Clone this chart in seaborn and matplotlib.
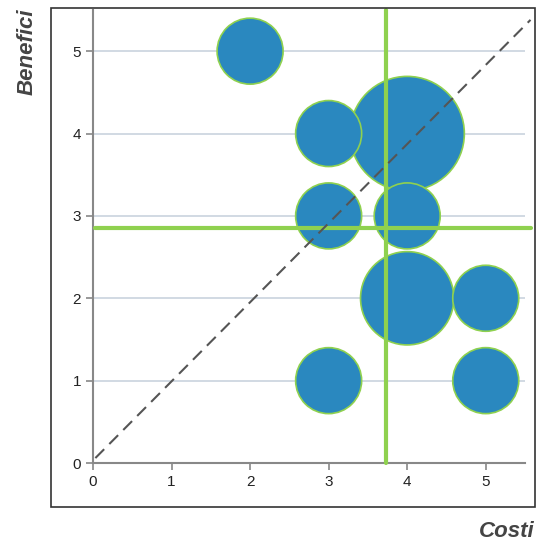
import matplotlib
matplotlib.use('Agg')
import pandas as pd
import matplotlib.pyplot as plt
import seaborn as sns
from matplotlib.patches import Rectangle

# Dati
costi = [2, 3, 4, 3, 4, 4, 5, 3, 5]
benefici = [5, 4, 4, 3, 3, 2, 2, 1, 1]
peso = [1, 1, 3, 1, 1, 2, 1, 1, 1]
media_costi = 3.73
media_benefici = 2.85

df = pd.DataFrame({'costi': costi, 'benefici': benefici, 'peso': peso})
# le bolle grandi sotto, le piccole sopra
df = df.sort_values('peso', ascending=False, kind='stable')

sns.set_style('white')
plt.rcParams['font.family'] = ['Liberation Sans', 'DejaVu Sans']

fig = plt.figure(figsize=(5.36, 5.46), dpi=100)
ax = fig.add_axes([0.1735, 0.152, 0.806, 0.8297])

# cornice esterna
fig.patches.append(Rectangle((0.095, 0.0714), 0.903, 0.9136, transform=fig.transFigure,
                             fill=False, edgecolor='#333333', linewidth=1.2))

for y in range(1, 6):
    ax.axhline(y, color='#c9d3de', linewidth=1.2, zorder=0)

sns.scatterplot(data=df, x='costi', y='benefici', size='peso', sizes=(2258, 6774),
                size_norm=(1, 3), color='#2a88bf', edgecolor='#8fd14f', linewidth=1.2,
                alpha=1, legend=False, ax=ax, zorder=3)

ax.plot([0.03, 5.57], [0.06, 5.38], linestyle=(0, (6, 3.5)), color='#555555',
        linewidth=1.5, zorder=5, clip_on=False)

ax.plot([media_costi, media_costi], [0.0, 5.5], color='#8fd14f', linewidth=3, zorder=4,
        clip_on=False)
ax.plot([0.03, 5.57], [media_benefici, media_benefici], color='#8fd14f', linewidth=3,
        zorder=4, clip_on=False)

ax.set_xlim(0, 5.5)
ax.set_ylim(0, 5.5)
ax.set_xticks(range(0, 6))
ax.set_yticks(range(0, 6))
ax.tick_params(axis='both', length=5, width=1.2, color='#888888', labelsize=11,
               labelcolor='#222222', bottom=True, left=True)
for side in ['top', 'right']:
    ax.spines[side].set_visible(False)
for side in ['left', 'bottom']:
    ax.spines[side].set_color('#888888')
    ax.spines[side].set_linewidth(1.5)
ax.set_xlabel('')
ax.set_ylabel('')

fig.text(0.05, 0.905, 'Benefici', rotation=90, ha='center', va='center', fontsize=16,
         fontstyle='italic', fontweight='bold', color='#444444')
fig.text(0.945, 0.026, 'Costi', ha='center', va='center', fontsize=16,
         fontstyle='italic', fontweight='bold', color='#444444')

plt.savefig('out.png', dpi=100)
